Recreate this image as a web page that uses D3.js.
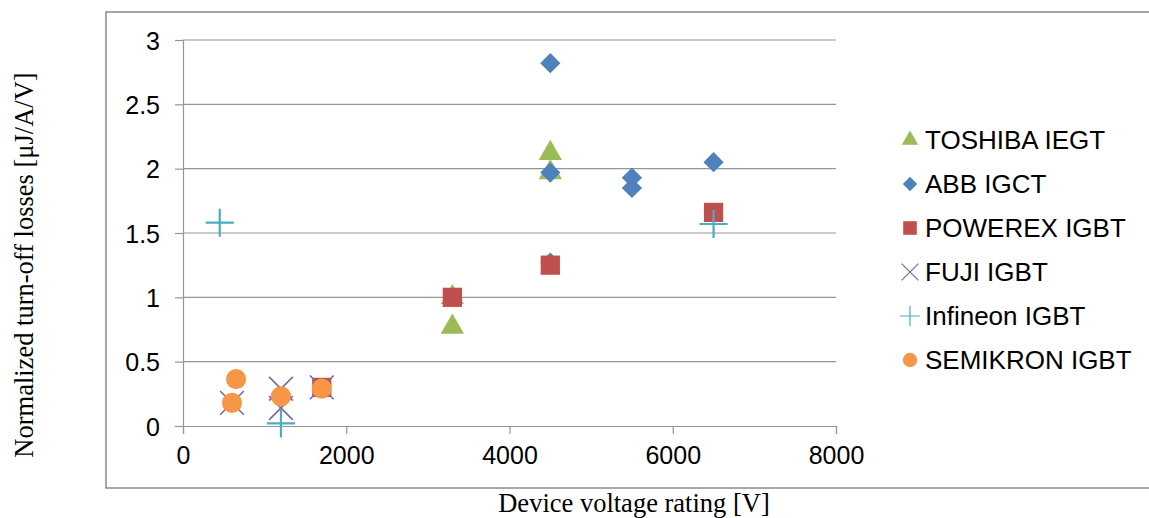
<!DOCTYPE html>
<html>
<head>
<meta charset="utf-8">
<script src="https://cdn.jsdelivr.net/npm/d3@7"></script>
<style>
  body { margin: 0; background: #fff; }
  svg { display: block; }
  .tick text { font-family: "Liberation Sans", Arial, sans-serif; font-size: 25px; fill: #000; }
  .legend text { font-family: "Liberation Sans", Arial, sans-serif; font-size: 26px; fill: #000; }
  .title { font-family: "Liberation Serif", "Times New Roman", serif; font-size: 26.5px; fill: #000; }
</style>
</head>
<body>
<script>
// series, drawn in this order (later ones on top)
var seriesNames = ["TOSHIBA IEGT", "ABB IGCT", "POWEREX IGBT", "FUJI IGBT", "Infineon IGBT", "SEMIKRON IGBT"];
var toshiba = [[3300, 1.0], [3300, 0.77], [4500, 2.12], [4500, 1.97]];
var abb = [[4500, 2.82], [4500, 1.97], [4500, 1.27], [5500, 1.93], [5500, 1.85], [6500, 2.05]];
var powerex = [[1700, 0.3], [3300, 1.0], [4500, 1.25], [6500, 1.66]];
var fuji = [[600, 0.18], [1200, 0.29], [1200, 0.14], [1700, 0.3]];
var infineon = [[450, 1.58], [1200, 0.02], [6500, 1.57]];
var semikron = [[600, 0.18], [650, 0.365], [1200, 0.23], [1700, 0.29]];
var xTicks = [0, 2000, 4000, 6000, 8000];
var yTicks = [0, 0.5, 1, 1.5, 2, 2.5, 3];

var seriesData = [toshiba, abb, powerex, fuji, infineon, semikron];
var colors = ["#9BBB59", "#4F81BD", "#C0504D", "#8064A2", "#4BACC6", "#F79646"];

var width = 1149, height = 518;
var svg = d3.select("body").append("svg").attr("width", width).attr("height", height);

// outer chart border
svg.append("rect")
  .attr("x", 106).attr("y", 12)
  .attr("width", 1070).attr("height", 476)
  .attr("fill", "none").attr("stroke", "#8a8a8a").attr("stroke-width", 1.5);

var x = d3.scaleLinear().domain([0, 8000]).range([183, 836]),
    y = d3.scaleLinear().domain([0, 3]).range([426, 40]);

// gridlines
svg.append("g")
  .selectAll("line")
  .data(yTicks.slice(1))
  .enter().append("line")
    .attr("x1", x(0)).attr("x2", x(8000))
    .attr("y1", function(d) { return y(d); })
    .attr("y2", function(d) { return y(d); })
    .attr("stroke", "#959595").attr("stroke-width", 1.2);

var yAxis = svg.append("g")
  .attr("transform", "translate(" + x(0) + ",0)")
  .call(d3.axisLeft(y).tickValues(yTicks).tickSize(8).tickPadding(15).tickFormat(d3.format("")));

var xAxis = svg.append("g")
  .attr("transform", "translate(0," + y(0) + ")")
  .call(d3.axisBottom(x).tickValues(xTicks).tickSize(8).tickPadding(14).tickFormat(d3.format("")));

[xAxis, yAxis].forEach(function(a) {
  a.select(".domain").attr("stroke", "#959595").attr("stroke-width", 1.2);
  a.selectAll(".tick line").attr("stroke", "#959595").attr("stroke-width", 1.2);
});
yAxis.selectAll(".tick text").attr("dy", "0.36em");
xAxis.selectAll(".tick text").attr("dy", "0.62em");

// axis titles
svg.append("text")
  .attr("class", "title")
  .attr("x", 634).attr("y", 512)
  .attr("text-anchor", "middle")
  .text("Device voltage rating [V]");

svg.append("text")
  .attr("class", "title")
  .attr("transform", "translate(33,265) rotate(-90)")
  .attr("text-anchor", "middle")
  .text("Normalized turn-off losses [μJ/A/V]");

// marker shapes
function marker(i, big) {
  var s = big ? 1 : 0.5;
  if (i === 0) return { sym: d3.symbolTriangle, size: 235 * s, rot: 0, fill: true };
  if (i === 1) return { sym: d3.symbolSquare, size: 205 * s, rot: 45, fill: true };
  if (i === 2) return { sym: d3.symbolSquare, size: 370 * s, rot: 0, fill: true };
  if (i === 3) return { sym: d3.symbolTimes, size: 370 * s, rot: 0, fill: false };
  if (i === 4) return { sym: d3.symbolPlus, size: 260 * s, rot: 0, fill: false };
  return { sym: d3.symbolCircle, size: 320 * s, rot: 0, fill: true };
}

function drawMarker(sel, i, big) {
  var m = marker(i, big);
  sel.attr("d", d3.symbol().type(m.sym).size(m.size)())
    .attr("fill", m.fill ? colors[i] : "none")
    .attr("stroke", m.fill ? "none" : colors[i])
    .attr("stroke-width", m.fill ? 0 : (big ? (i === 3 ? 1.6 : 2.2) : 1.2));
  return m;
}

seriesData.forEach(function(data, i) {
  var g = svg.append("g").attr("class", "series");
  g.selectAll("path")
    .data(data)
    .enter().append("path")
      .each(function(d) {
        var m = drawMarker(d3.select(this), i, true);
        d3.select(this).attr("transform", "translate(" + x(d[0]) + "," + y(d[1]) + ") rotate(" + m.rot + ")");
      });
});

// legend
var legend = svg.append("g").attr("class", "legend");
var item = legend.selectAll("g")
  .data(seriesNames)
  .enter().append("g")
    .attr("transform", function(d, i) { return "translate(910," + (140 + i * 44) + ")"; });

item.append("path")
  .each(function(d, i) {
    var m = drawMarker(d3.select(this), i, false);
    d3.select(this).attr("transform", "rotate(" + m.rot + ")");
  });

item.append("text")
  .attr("x", 15)
  .attr("dy", "0.36em")
  .text(function(d) { return d; });
</script>
</body>
</html>
